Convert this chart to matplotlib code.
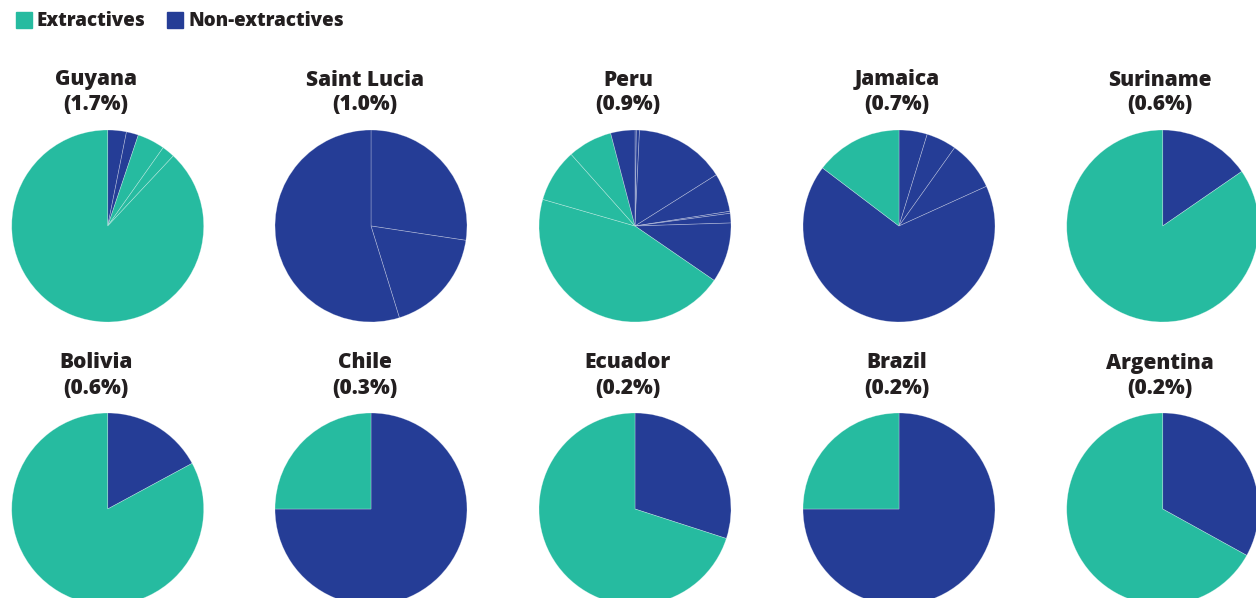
import matplotlib.pyplot as plt
from matplotlib.patches import Rectangle

# colours
teal = '#26bba0'
navy = '#253d96'
txt = '#231f20'

categories = ['Extractives', 'Non-extractives']
cat_colors = {'Extractives': teal, 'Non-extractives': navy}

countries = ['Guyana', 'Saint Lucia', 'Peru', 'Jamaica', 'Suriname',
             'Bolivia', 'Chile', 'Ecuador', 'Brazil', 'Argentina']
shares = ['1.7%', '1.0%', '0.9%', '0.7%', '0.6%',
          '0.6%', '0.3%', '0.2%', '0.2%', '0.2%']

# slice sizes (degrees of the pie, clockwise from 12 o'clock) and their category
guyana_vals = [11.3, 7.3, 16.7, 7.8, 316.9]
guyana_cats = ['Non-extractives', 'Non-extractives', 'Extractives', 'Extractives', 'Extractives']
stlucia_vals = [98.6, 64.2, 197.2]
stlucia_cats = ['Non-extractives'] * 3
peru_vals = [0.8, 1.9, 55.1, 23.4, 1.2, 5.8, 36.3, 161.6, 32.2, 27.0, 14.7]
peru_cats = ['Non-extractives'] * 7 + ['Extractives'] * 3 + ['Non-extractives']
jamaica_vals = [17.1, 18.3, 30.2, 241.6, 52.8]
jamaica_cats = ['Non-extractives'] * 4 + ['Extractives']
suriname_vals = [55.4, 304.6]
suriname_cats = ['Non-extractives', 'Extractives']
bolivia_vals = [61.6, 298.4]
bolivia_cats = ['Non-extractives', 'Extractives']
chile_vals = [270, 90]
chile_cats = ['Non-extractives', 'Extractives']
ecuador_vals = [107.9, 252.1]
ecuador_cats = ['Non-extractives', 'Extractives']
brazil_vals = [270, 90]
brazil_cats = ['Non-extractives', 'Extractives']
argentina_vals = [118.9, 241.1]
argentina_cats = ['Non-extractives', 'Extractives']

all_vals = [guyana_vals, stlucia_vals, peru_vals, jamaica_vals, suriname_vals,
            bolivia_vals, chile_vals, ecuador_vals, brazil_vals, argentina_vals]
all_cats = [guyana_cats, stlucia_cats, peru_cats, jamaica_cats, suriname_cats,
            bolivia_cats, chile_cats, ecuador_cats, brazil_cats, argentina_cats]

W, H = 1256, 598
fig = plt.figure(figsize=(W / 100, H / 100), dpi=100)
plt.rcParams['font.family'] = ['Open Sans', 'DejaVu Sans']

col_x = [107.7, 371, 635, 899, 1162.7]
row_y = [226, 509]
title_dx = [-12, -6, -7, -2, -3]
R = 96

for i, (name, share, vals, cats) in enumerate(zip(countries, shares, all_vals, all_cats)):
    cx = col_x[i % 5]
    cy = row_y[i // 5]
    ax = fig.add_axes([(cx - R) / W, 1 - (cy + R) / H, 2 * R / W, 2 * R / H])
    ax.pie(vals, colors=[cat_colors[c] for c in cats], startangle=90, counterclock=False,
           radius=1, wedgeprops=dict(edgecolor=(1, 1, 1, 0.35), linewidth=0.5))
    ax.set_xlim(-1, 1)
    ax.set_ylim(-1, 1)
    ax.set_aspect('auto')
    ax.axis('off')
    tx = (cx + title_dx[i % 5]) / W
    fig.text(tx, 1 - (cy - 146) / H, name, ha='center', va='center',
             fontsize=15, fontweight='heavy', color=txt)
    fig.text(tx, 1 - (cy - 121) / H, '(' + share + ')', ha='center', va='center',
             fontsize=15, fontweight='heavy', color=txt)

# legend
leg_x = [16, 167]
for cat, lx in zip(categories, leg_x):
    fig.patches.append(Rectangle((lx / W, 1 - 28 / H), 16 / W, 16 / H,
                                 transform=fig.transFigure, color=cat_colors[cat]))
    fig.text((lx + 21) / W, 1 - 21 / H, cat, ha='left', va='center',
             fontsize=13.5, fontweight='heavy', color=txt)

plt.savefig('out.png', dpi=100)
